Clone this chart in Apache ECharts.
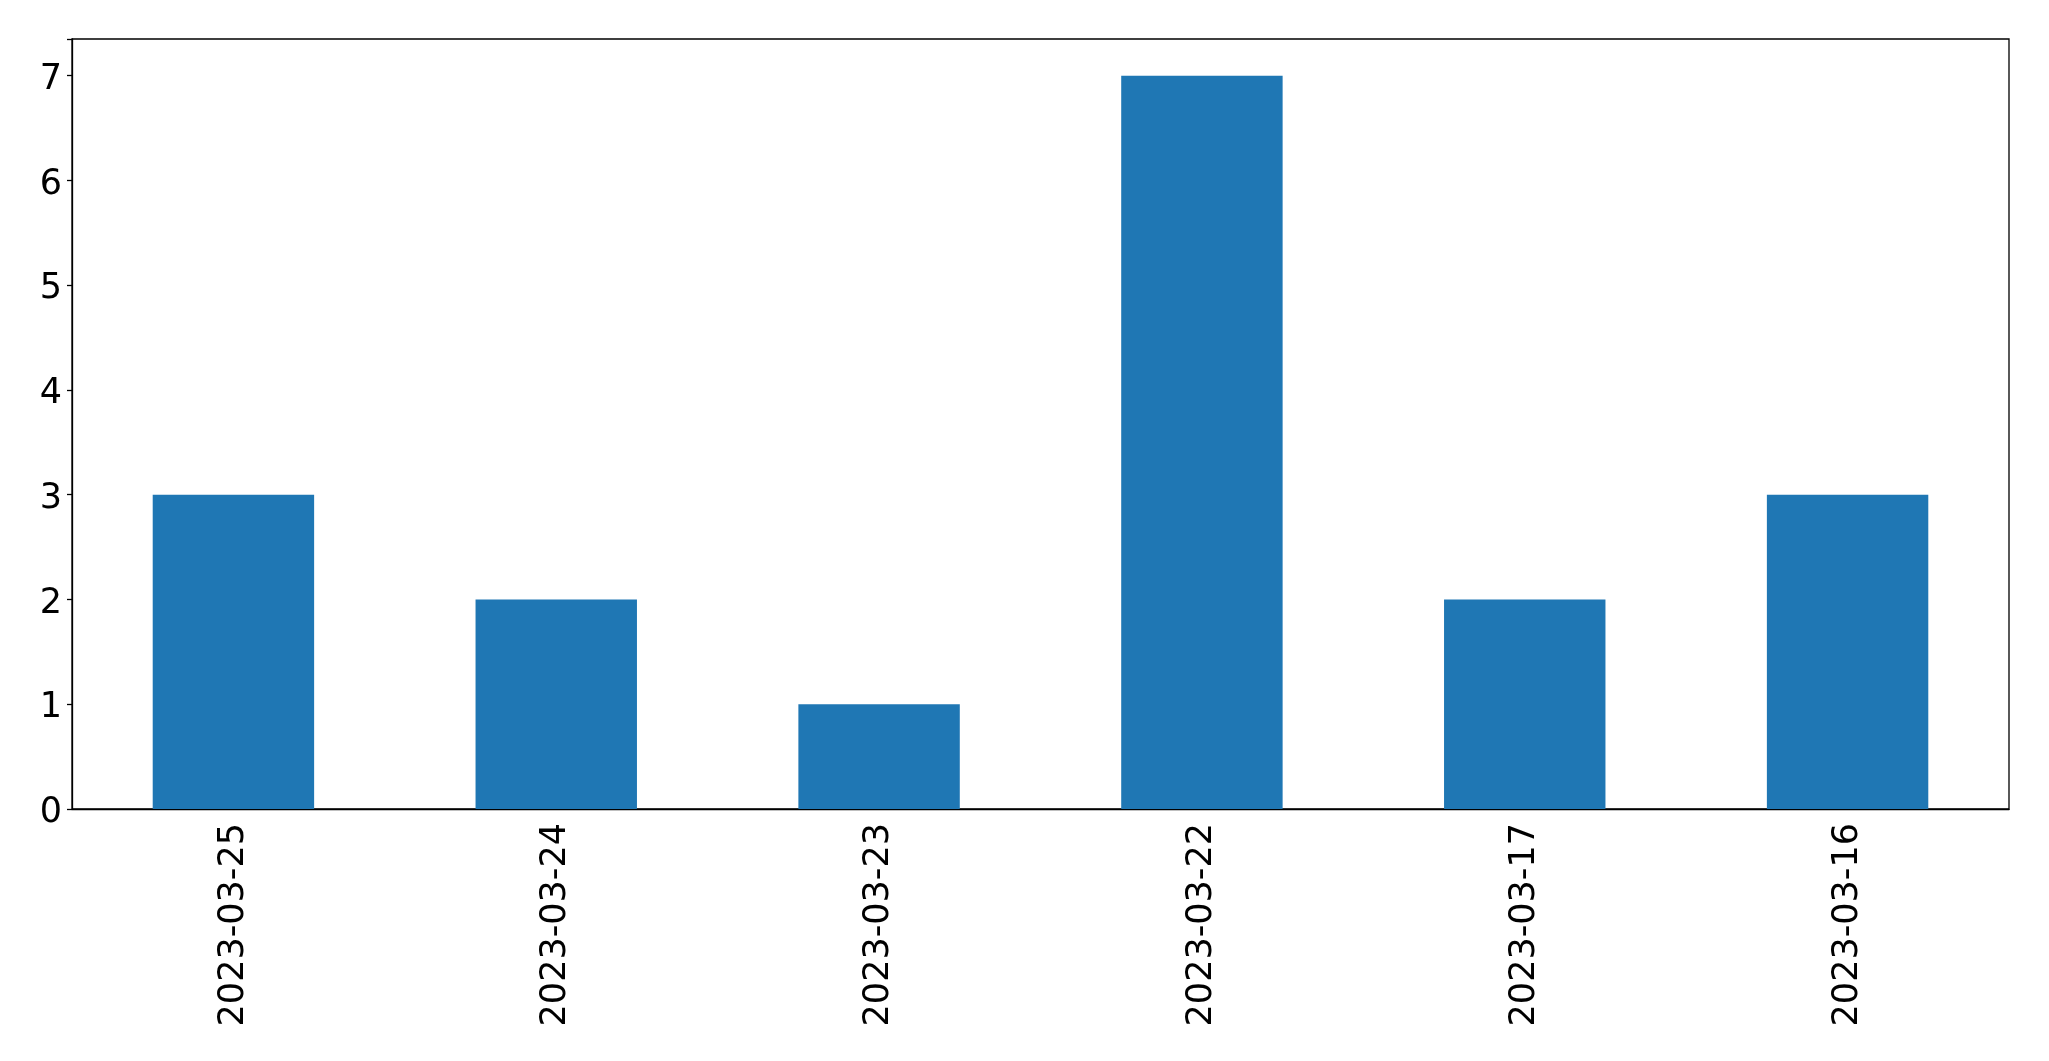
<!DOCTYPE html>
<html>
<head>
<meta charset="utf-8">
<script src="https://cdn.jsdelivr.net/npm/echarts@6/dist/echarts.min.js"></script>
<style>
html,body{margin:0;padding:0;background:#fff;}
#c{width:2049px;height:1061px;}
</style>
</head>
<body>
<div id="c"></div>
<script>
const categories = ["2023-03-25","2023-03-24","2023-03-23","2023-03-22","2023-03-17","2023-03-16"];
const counts = [3,2,1,7,2,3];
const yTicks = [0,1,2,3,4,5,6,7];

const chart = echarts.init(document.getElementById('c'));
const font = 'DejaVu Sans';
chart.setOption({
  animation:false,
  backgroundColor:'#fff',
  grid:{left:72,top:39,right:40,bottom:252,show:true,borderColor:'#000',borderWidth:1.3,backgroundColor:'transparent'},
  xAxis:{
    type:'category',
    data:categories,
    axisLine:{lineStyle:{color:'#000',width:1.3}},
    axisTick:{alignWithLabel:true,inside:false,length:5,lineStyle:{color:'#000',width:1.3}},
    axisLabel:{rotate:90,margin:14,color:'#000',fontFamily:font,fontSize:35}
  },
  yAxis:{
    type:'value',
    min:0,max:7.35,interval:1,
    axisLine:{show:true,lineStyle:{color:'#000',width:1.3}},
    axisTick:{show:true,inside:false,length:5,lineStyle:{color:'#000',width:1.3}},
    splitLine:{show:false},
    axisLabel:{margin:10,color:'#000',fontFamily:font,fontSize:35,
      formatter:function(v){return yTicks.indexOf(v)>=0?'{v|'+v+'}':'';},
      rich:{v:{fontFamily:font,fontSize:35,color:'#000',padding:[8,0,0,0]}}}
  },
  series:[{type:'bar',data:counts,barWidth:'50%',itemStyle:{color:'#1f77b4'}}]
});
</script>
</body>
</html>
